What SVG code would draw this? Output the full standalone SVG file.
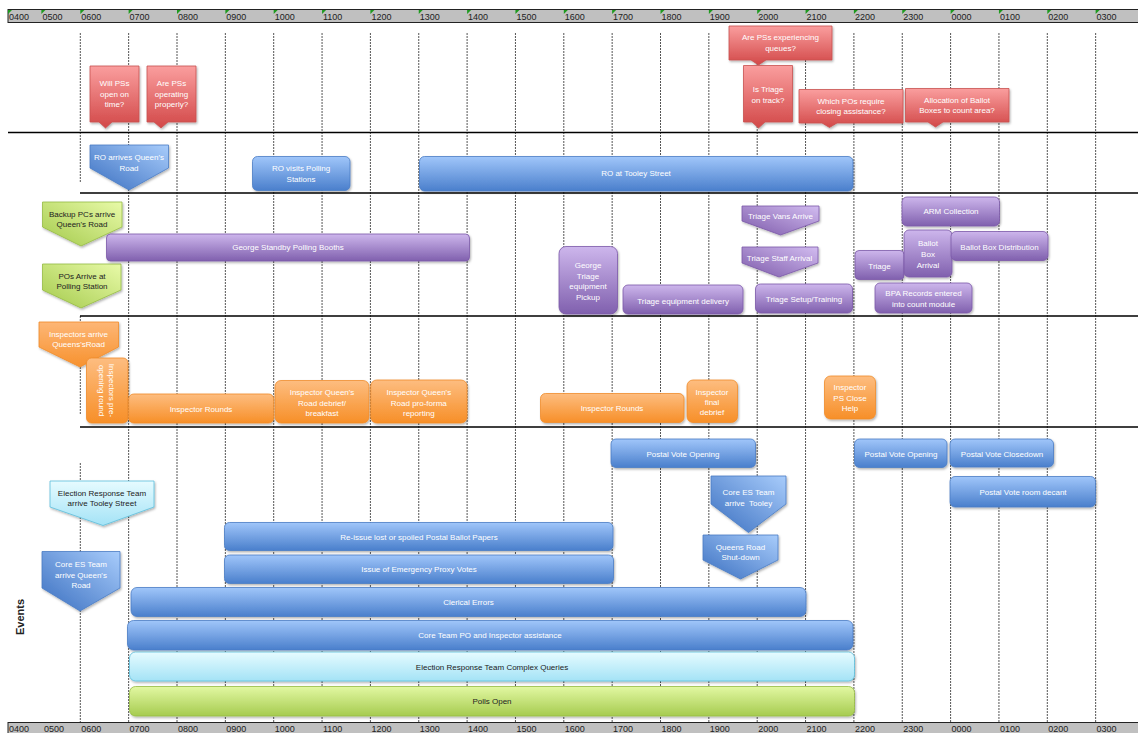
<svg xmlns="http://www.w3.org/2000/svg" width="1138" height="733" viewBox="0 0 1138 733">
<style>
text{font-family:"Liberation Sans",Arial,sans-serif;font-size:8px;fill:#fff;text-anchor:middle}
.dk{fill:#222}
.ax{font-size:9px;fill:#222;text-anchor:start}
.grid{stroke:#555;stroke-width:1;stroke-dasharray:2 1;fill:none}
.sec{stroke:#000;stroke-width:1.5;fill:none}
.red{fill:url(#gRed);stroke:#c8504f;stroke-width:0.8;filter:url(#sh)}
.blue{fill:url(#gBlue);stroke:#4a7cc4;stroke-width:0.8;filter:url(#sh)}
.blueA{fill:url(#aBlue);stroke:#4a7cc4;stroke-width:0.8;filter:url(#sh)}
.pur{fill:url(#gPur);stroke:#7b58a8;stroke-width:0.8;filter:url(#sh)}
.purA{fill:url(#aPur);stroke:#7b58a8;stroke-width:0.8;filter:url(#sh)}
.org{fill:url(#gOrg);stroke:#f08c2a;stroke-width:0.8;filter:url(#sh)}
.orgA{fill:url(#aOrg);stroke:#f08c2a;stroke-width:0.8;filter:url(#sh)}
.grnA{fill:url(#aGrn);stroke:#96bb44;stroke-width:0.8;filter:url(#sh)}
.grn{fill:url(#gGrn);stroke:#96bb44;stroke-width:0.8;filter:url(#sh)}
.cyn{fill:url(#gCyn);stroke:#5cbedc;stroke-width:0.8;filter:url(#sh)}
.tick{fill:#1e9a1e}
</style>
<defs>
<filter id="sh" x="-10%" y="-10%" width="130%" height="140%"><feDropShadow dx="1" dy="1.5" stdDeviation="1.2" flood-color="#000" flood-opacity="0.3"/></filter>
<linearGradient id="gRed" x1="0" y1="0" x2="0" y2="1"><stop offset="0" stop-color="#fa9e9e"/><stop offset="1" stop-color="#d24848"/></linearGradient>
<linearGradient id="gBlue" x1="0" y1="0" x2="0" y2="1"><stop offset="0" stop-color="#a0c6fa"/><stop offset="1" stop-color="#4a7fcc"/></linearGradient>
<linearGradient id="aBlue" x1="0" y1="1" x2="1" y2="0"><stop offset="0" stop-color="#3a6fc0"/><stop offset="1" stop-color="#a8ccfb"/></linearGradient>
<linearGradient id="gPur" x1="0" y1="0" x2="0" y2="1"><stop offset="0" stop-color="#cdb6ec"/><stop offset="1" stop-color="#8060ae"/></linearGradient>
<linearGradient id="aPur" x1="0" y1="1" x2="1" y2="0"><stop offset="0" stop-color="#7d5aaa"/><stop offset="1" stop-color="#d2bcf0"/></linearGradient>
<linearGradient id="gOrg" x1="0" y1="0" x2="0" y2="1"><stop offset="0" stop-color="#fdbd80"/><stop offset="1" stop-color="#f78f28"/></linearGradient>
<linearGradient id="aOrg" x1="0" y1="0" x2="0" y2="1"><stop offset="0" stop-color="#fdb676"/><stop offset="1" stop-color="#f7922e"/></linearGradient>
<linearGradient id="aGrn" x1="0" y1="1" x2="1" y2="0"><stop offset="0" stop-color="#a4ca4c"/><stop offset="1" stop-color="#e8faa8"/></linearGradient>
<linearGradient id="gGrn" x1="0" y1="0" x2="0" y2="1"><stop offset="0" stop-color="#e2f8a2"/><stop offset="1" stop-color="#a6cb50"/></linearGradient>
<linearGradient id="gCyn" x1="0" y1="0" x2="0" y2="1"><stop offset="0" stop-color="#e6fbff"/><stop offset="1" stop-color="#a4e3f6"/></linearGradient>
</defs>
<rect width="1138" height="733" fill="#fff"/>

<g id="axis-top">
<rect x="8" y="9.5" width="1132" height="13" fill="#c0c0c0" stroke="#222" stroke-width="1"/>
<g class="ax-ticks">
<polygon class="tick" points="8,10 12,10 8,14"/><polygon class="tick" points="41.4,10 45.4,10 41.4,14"/>
<polygon class="tick" points="80.3,10 84.3,10 80.3,14"/><polygon class="tick" points="128.65,10 132.65,10 128.65,14"/>
<polygon class="tick" points="177,10 181,10 177,14"/><polygon class="tick" points="225.35,10 229.35,10 225.35,14"/>
<polygon class="tick" points="273.7,10 277.7,10 273.7,14"/><polygon class="tick" points="322.05,10 326.05,10 322.05,14"/>
<polygon class="tick" points="370.4,10 374.4,10 370.4,14"/><polygon class="tick" points="418.75,10 422.75,10 418.75,14"/>
<polygon class="tick" points="467.1,10 471.1,10 467.1,14"/><polygon class="tick" points="515.45,10 519.45,10 515.45,14"/>
<polygon class="tick" points="563.8,10 567.8,10 563.8,14"/><polygon class="tick" points="612.15,10 616.15,10 612.15,14"/>
<polygon class="tick" points="660.5,10 664.5,10 660.5,14"/><polygon class="tick" points="708.85,10 712.85,10 708.85,14"/>
<polygon class="tick" points="757.2,10 761.2,10 757.2,14"/><polygon class="tick" points="805.55,10 809.55,10 805.55,14"/>
<polygon class="tick" points="853.9,10 857.9,10 853.9,14"/><polygon class="tick" points="902.25,10 906.25,10 902.25,14"/>
<polygon class="tick" points="950.6,10 954.6,10 950.6,14"/><polygon class="tick" points="998.95,10 1002.95,10 998.95,14"/>
<polygon class="tick" points="1047.3,10 1051.3,10 1047.3,14"/><polygon class="tick" points="1095.65,10 1099.65,10 1095.65,14"/>
</g>
<text class="ax" x="9" y="19.5">0400</text><text class="ax" x="42.4" y="19.5">0500</text>
<text class="ax" x="81.3" y="19.5">0600</text><text class="ax" x="129.6" y="19.5">0700</text>
<text class="ax" x="178" y="19.5">0800</text><text class="ax" x="226.3" y="19.5">0900</text>
<text class="ax" x="274.7" y="19.5">1000</text><text class="ax" x="323" y="19.5">1100</text>
<text class="ax" x="371.4" y="19.5">1200</text><text class="ax" x="419.7" y="19.5">1300</text>
<text class="ax" x="468.1" y="19.5">1400</text><text class="ax" x="516.4" y="19.5">1500</text>
<text class="ax" x="564.8" y="19.5">1600</text><text class="ax" x="613.1" y="19.5">1700</text>
<text class="ax" x="661.5" y="19.5">1800</text><text class="ax" x="709.8" y="19.5">1900</text>
<text class="ax" x="758.2" y="19.5">2000</text><text class="ax" x="806.5" y="19.5">2100</text>
<text class="ax" x="854.9" y="19.5">2200</text><text class="ax" x="903.2" y="19.5">2300</text>
<text class="ax" x="951.6" y="19.5">0000</text><text class="ax" x="999.9" y="19.5">0100</text>
<text class="ax" x="1048.3" y="19.5">0200</text><text class="ax" x="1096.6" y="19.5">0300</text>
</g>

<g id="grid">
<path class="grid" d="M80.3 33V182M80.3 316V415M80.3 463V722"/>
<path class="grid" d="M128.65 33V722M177 33V722M225.35 33V722M273.7 33V722M322.05 33V722M370.4 33V722M418.75 33V722M467.1 33V722M515.45 33V722M563.8 33V722M612.15 33V722M660.5 33V722M708.85 33V722M757.2 33V722M805.55 33V722M853.9 33V722M902.25 33V722M950.6 33V722M998.95 33V722M1047.3 33V722M1095.65 33V722"/>
<path class="sec" d="M8 132.5H1138M80 193H1138M80 316H1138M80 427H1138"/>
</g>

<g id="axis-bottom">
<rect x="8" y="722.5" width="1132" height="12" fill="#c0c0c0" stroke="#222" stroke-width="1"/>
<text class="ax" x="9" y="732">0400</text><text class="ax" x="44" y="732">0500</text>
<text class="ax" x="81.3" y="732">0600</text><text class="ax" x="129.6" y="732">0700</text>
<text class="ax" x="178" y="732">0800</text><text class="ax" x="226.3" y="732">0900</text>
<text class="ax" x="274.7" y="732">1000</text><text class="ax" x="323" y="732">1100</text>
<text class="ax" x="371.4" y="732">1200</text><text class="ax" x="419.7" y="732">1300</text>
<text class="ax" x="468.1" y="732">1400</text><text class="ax" x="516.4" y="732">1500</text>
<text class="ax" x="564.8" y="732">1600</text><text class="ax" x="613.1" y="732">1700</text>
<text class="ax" x="661.5" y="732">1800</text><text class="ax" x="709.8" y="732">1900</text>
<text class="ax" x="758.2" y="732">2000</text><text class="ax" x="806.5" y="732">2100</text>
<text class="ax" x="854.9" y="732">2200</text><text class="ax" x="903.2" y="732">2300</text>
<text class="ax" x="951.6" y="732">0000</text><text class="ax" x="999.9" y="732">0100</text>
<text class="ax" x="1048.3" y="732">0200</text><text class="ax" x="1096.6" y="732">0300</text>
</g>

<g id="label-events"><text class="dk" transform="translate(24,617) rotate(-90)" style="font-size:11px;font-weight:bold">Events</text></g>

<g id="connectors"></g>

<!-- Red question callouts -->
<g id="q-open-on-time"><path class="red" d="M90 66H139V122H112L105.5 128L99 122H90Z"/><text x="114.5" y="86">Will PSs</text><text x="114.5" y="96.5">open on</text><text x="114.5" y="107">time?</text></g>
<g id="q-operating"><path class="red" d="M147 66H196V122H168L161 128L154 122H147Z"/><text x="171.5" y="86">Are PSs</text><text x="171.5" y="96.5">operating</text><text x="171.5" y="107">properly?</text></g>
<g id="q-queues"><path class="red" d="M729 26H832V60H766L758.5 65L751 60H729Z"/><text x="780.5" y="40">Are PSs experiencing</text><text x="780.5" y="51">queues?</text></g>
<g id="q-triage"><path class="red" d="M743.5 65.5H792.5V122H765L758.5 128L752 122H743.5Z"/><text x="768" y="92">Is Triage</text><text x="768" y="102.5">on track?</text></g>
<g id="q-closing"><path class="red" d="M799 89.5H903V123H837L829.5 127.5L822 123H799Z"/><text x="851" y="103.5">Which POs require</text><text x="851" y="114">closing assistance?</text></g>
<g id="q-allocation"><path class="red" d="M905.5 88.5H1009V122H943L935.5 127L928 122H905.5Z"/><text x="957" y="103">Allocation of Ballot</text><text x="957" y="113">Boxes to count area?</text></g>

<!-- RO row -->
<g id="ro-arrives"><path class="blueA" d="M90 145H168.5V168L129 190L90 168Z"/><text x="129" y="159.5">RO arrives Queen's</text><text x="129" y="171">Road</text></g>
<g id="ro-visits"><rect class="blue" x="252.5" y="156.5" width="97.5" height="34" rx="5"/><text x="301" y="171">RO visits Polling</text><text x="301" y="182">Stations</text></g>
<g id="ro-tooley"><rect class="blue" x="419.5" y="156.5" width="433.5" height="34.5" rx="5"/><text x="636" y="176">RO at Tooley Street</text></g>

<!-- Purple/green row -->
<g id="backup-pcs"><path class="grnA" d="M42.5 202H122V227L81 246L42.5 227Z"/><text class="dk" x="82" y="217">Backup PCs arrive</text><text class="dk" x="82" y="227">Queen's Road</text></g>
<g id="pos-arrive"><path class="grnA" d="M42.5 264H121V290L81 308L42.5 290Z"/><text class="dk" x="82" y="278.5">POs Arrive at</text><text class="dk" x="82" y="289">Polling Station</text></g>
<g id="george-standby"><rect class="pur" x="106.5" y="234" width="363" height="27" rx="4"/><text x="288" y="250">George Standby Polling Booths</text></g>
<g id="george-triage"><rect class="pur" x="559" y="246.5" width="58.5" height="67.5" rx="7"/><text x="588" y="268">George</text><text x="588" y="278.5">Triage</text><text x="588" y="289">equipment</text><text x="588" y="299.5">Pickup</text></g>
<g id="triage-delivery"><rect class="pur" x="623" y="285" width="120" height="29" rx="5"/><text x="683" y="303.5">Triage equipment delivery</text></g>
<g id="triage-vans"><path class="purA" d="M742 206H819V221L780.5 235L742 221Z"/><text x="780.5" y="219">Triage Vans Arrive</text></g>
<g id="triage-staff"><path class="purA" d="M742 247H818V263L779 277L742 263Z"/><text x="779.5" y="261">Triage Staff Arrival</text></g>
<g id="triage-setup"><rect class="pur" x="755.5" y="284" width="97" height="29" rx="5"/><text x="804" y="302">Triage Setup/Training</text></g>
<g id="triage"><rect class="pur" x="855" y="250.5" width="49" height="29" rx="4"/><text x="879.5" y="268.5">Triage</text></g>
<g id="arm-collection"><rect class="pur" x="902" y="197" width="97.5" height="29" rx="5"/><text x="951" y="214">ARM Collection</text></g>
<g id="ballot-box-arrival"><rect class="pur" x="904" y="230" width="48" height="47" rx="5"/><text x="928" y="246">Ballot</text><text x="928" y="257">Box</text><text x="928" y="268">Arrival</text></g>
<g id="ballot-box-distribution"><rect class="pur" x="951" y="231.5" width="97" height="29" rx="5"/><text x="999.5" y="249.5">Ballot Box Distribution</text></g>
<g id="bpa-records"><rect class="pur" x="875" y="283" width="97" height="30" rx="5"/><text x="923.5" y="296">BPA Records entered</text><text x="923.5" y="307">into count module</text></g>

<!-- Orange row -->
<g id="inspectors-arrive"><path class="orgA" d="M39 322H118.5V347L80 367L39 347Z"/><text x="78.5" y="337">Inspectors arrive</text><text x="78.5" y="347">Queens'sRoad</text></g>
<g id="inspectors-pre"><rect class="org" x="86.5" y="358" width="41.5" height="65" rx="5"/><text transform="translate(107,390.5) rotate(90)"><tspan x="0" y="-2">Inspectors pre-</tspan><tspan x="0" y="8.5">opening round</tspan></text></g>
<g id="inspector-rounds-1"><rect class="org" x="128.7" y="394" width="145" height="29" rx="5"/><text x="201" y="412">Inspector Rounds</text></g>
<g id="inspector-debrief"><rect class="org" x="275" y="380.5" width="94" height="42.5" rx="6"/><text x="322" y="395">Inspector Queen's</text><text x="322" y="405.5">Road debrief/</text><text x="322" y="416">breakfast</text></g>
<g id="inspector-proforma"><rect class="org" x="370.7" y="380" width="96.3" height="43" rx="6"/><text x="418.8" y="395">Inspector Queen's</text><text x="418.8" y="405.5">Road pro-forma</text><text x="418.8" y="416">reporting</text></g>
<g id="inspector-rounds-2"><rect class="org" x="540.5" y="393.5" width="143.5" height="29" rx="5"/><text x="612" y="411">Inspector Rounds</text></g>
<g id="inspector-final"><rect class="org" x="687" y="380" width="50.5" height="42.5" rx="6"/><text x="712" y="394.5">Inspector</text><text x="712" y="404.5">final</text><text x="712" y="414.5">debrief</text></g>
<g id="inspector-close"><rect class="org" x="824.5" y="376" width="51" height="43" rx="6"/><text x="850" y="390">Inspector</text><text x="850" y="401">PS Close</text><text x="850" y="411">Help</text></g>

<!-- Events row -->
<g id="ert-arrive"><path class="cyn" d="M50 481H154V507L103 525.5L50 507Z"/><text class="dk" x="102" y="496">Election Response Team</text><text class="dk" x="102" y="505.5">arrive Tooley Street</text></g>
<g id="core-es-queens"><path class="blueA" d="M42 551.5H120V588L80 611L42 588Z"/><text x="81" y="567">Core ES Team</text><text x="81" y="577.5">arrive Queen's</text><text x="81" y="588">Road</text></g>
<g id="postal-opening-1"><rect class="blue" x="611" y="439" width="144.5" height="28.5" rx="5"/><text x="683" y="457">Postal Vote Opening</text></g>
<g id="core-es-tooley"><path class="blueA" d="M711 476H786V504L748.5 532.5L711 504Z"/><text x="748.5" y="495">Core ES Team</text><text x="748.5" y="506" xml:space="preserve">arrive  Tooley</text></g>
<g id="queens-shutdown"><path class="blueA" d="M703 535H778V560L740.5 579L703 560Z"/><text x="740.5" y="550">Queens Road</text><text x="740.5" y="560">Shut-down</text></g>
<g id="postal-opening-2"><rect class="blue" x="854.5" y="439" width="92.5" height="28.5" rx="5"/><text x="901" y="457">Postal Vote Opening</text></g>
<g id="postal-closedown"><rect class="blue" x="950" y="439" width="103.5" height="28" rx="5"/><text x="1002" y="457">Postal Vote Closedown</text></g>
<g id="postal-decant"><rect class="blue" x="950" y="476.5" width="145.5" height="30.5" rx="5"/><text x="1023" y="495">Postal Vote room decant</text></g>
<g id="reissue"><rect class="blue" x="224.5" y="522.5" width="388.5" height="28" rx="5"/><text x="419" y="540">Re-issue lost or spoiled Postal Ballot  Papers</text></g>
<g id="proxy"><rect class="blue" x="224.5" y="555" width="389" height="28.5" rx="5"/><text x="419" y="572">Issue of Emergency Proxy Votes</text></g>
<g id="clerical"><rect class="blue" x="131" y="587.5" width="675" height="29" rx="6"/><text x="468.5" y="605">Clerical Errors</text></g>
<g id="core-team-assist"><rect class="blue" x="127.5" y="620.5" width="725.5" height="29.5" rx="6"/><text x="490" y="638">Core Team PO and Inspector assistance</text></g>
<g id="ert-queries"><rect class="cyn" x="129.5" y="652" width="725" height="29" rx="6"/><text class="dk" x="492" y="670">Election Response Team Complex Queries</text></g>
<g id="polls-open"><rect class="grn" x="129.5" y="686.5" width="725" height="29.5" rx="6"/><text class="dk" x="492" y="704">Polls Open</text></g>
</svg>
